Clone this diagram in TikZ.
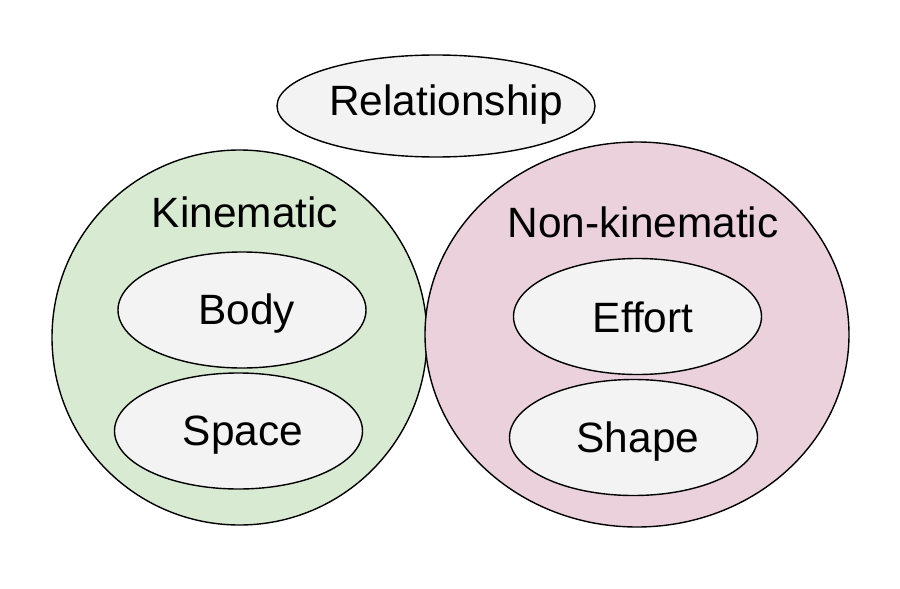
\documentclass[tikz,border=0pt]{standalone}
\usepackage{fontspec}
\setmainfont{Liberation Sans}
\usetikzlibrary{shapes.geometric}
\definecolor{kgreen}{HTML}{D9EAD3}
\definecolor{kpink}{HTML}{EAD1DC}
\definecolor{egray}{HTML}{F3F3F3}
\tikzset{
  oval/.style={ellipse, draw=black, line width=1.4pt, inner sep=0pt},
  inner/.style={oval, fill=egray, minimum width=248pt, minimum height=116pt},
  lbl/.style={inner sep=0pt, anchor=base, font=\fontsize{42.4}{48}\selectfont}
}
\begin{document}
\begin{tikzpicture}[x=1pt,y=-1pt]
\useasboundingbox (0,0) rectangle (900,589);
\fill[white] (0,0) rectangle (900,589);
\node[oval, fill=kgreen, minimum width=375pt, minimum height=375pt] (kin) at (239.5,337.5) {};
\node[oval, fill=kpink, minimum width=424pt, minimum height=385pt] (nonkin) at (637,334.5) {};
\node[oval, fill=egray, minimum width=318pt, minimum height=102pt] (rel) at (436,106) {};
\node[lbl] (reltxt) at (446,115) {Relationship};
\node[lbl] (kinlbl) at (245,227) {Kinematic};
\node[lbl] (nonkinlbl) at (643,237) {Non-kinematic};
\node[inner] (body) at (242,310) {};
\node[inner] (space) at (238.5,431) {};
\node[inner] (effort) at (637.5,316.5) {};
\node[inner] (shape) at (633.5,437.5) {};
\node[lbl] (bodytxt) at (246.5,324) {Body};
\node[lbl] (spacetxt) at (243,445) {Space};
\node[lbl] (efforttxt) at (643,332) {Effort};
\node[lbl] (shapetxt) at (638,452) {Shape};
\end{tikzpicture}
\end{document}
